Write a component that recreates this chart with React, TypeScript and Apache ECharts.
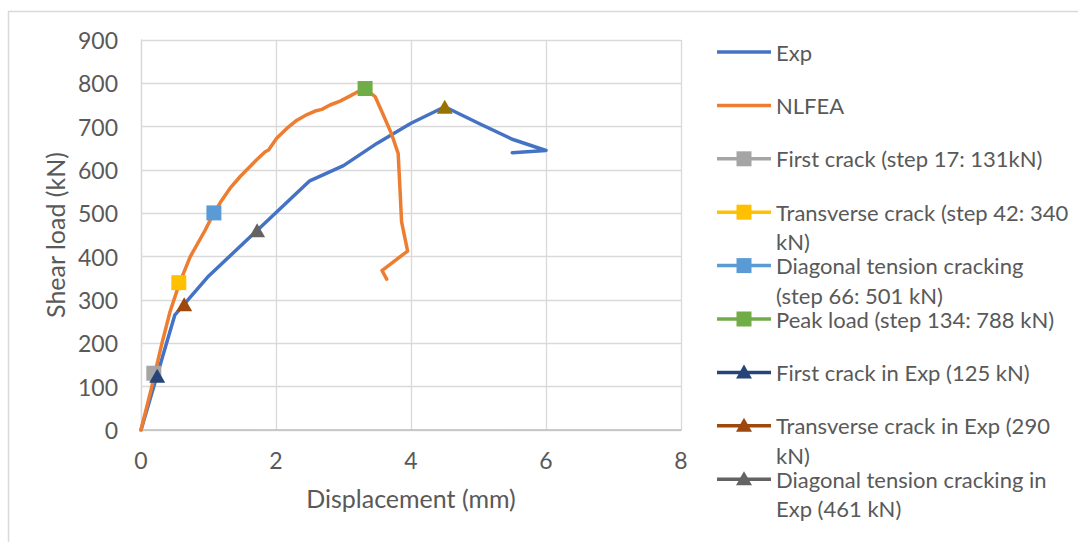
import React, { useEffect, useRef } from "react";
import * as echarts from "echarts";

// Experimental load–displacement curve
const expDisp = [0, 0.5, 1.0, 2.5, 3.0, 3.5, 4.0, 4.5, 5.0, 5.5, 6.0, 5.5];
const expLoad = [0, 265, 355, 575, 610, 662, 708, 746, 708, 671, 645, 640];

// NLFEA load–displacement curve
const feaDisp = [
  0, 0.16, 0.31, 0.43, 0.57, 0.73, 0.95, 1.08, 1.2, 1.32, 1.47, 1.59, 1.71, 1.84, 1.89,
  2.01, 2.16, 2.31, 2.46, 2.58, 2.68, 2.8, 2.95, 3.1, 3.24, 3.32, 3.47, 3.59, 3.71, 3.81,
  3.84, 3.86, 3.95, 3.57, 3.64,
];
const feaLoad = [
  0, 100, 200, 273, 339, 400, 461, 501, 531, 558, 585, 604, 623, 642, 646,
  673, 696, 715, 728, 736, 740, 750, 759, 771, 783, 788, 769, 727, 684, 638,
  546, 481, 413, 368, 348,
];

// Crack / peak events
const eventNames = [
  "First crack (step 17: 131kN)",
  "Transverse crack (step 42: 340 kN)",
  "Diagonal tension cracking (step 66: 501 kN)",
  "Peak load (step 134: 788 kN)",
  "First crack in Exp (125 kN)",
  "Transverse crack in Exp (290 kN)",
  "Diagonal tension cracking in Exp (461 kN)",
  "Peak load in Exp (746 kN)",
];
const eventDisp = [0.19, 0.56, 1.08, 3.32, 0.24, 0.64, 1.72, 4.5];
const eventLoad = [131, 340, 501, 788, 125, 290, 461, 746];

// Legend labels as wrapped in the legend column
const legendLabels = [
  ["Exp"],
  ["NLFEA"],
  ["First crack (step 17: 131kN)"],
  ["Transverse crack (step 42: 340", "kN)"],
  ["Diagonal tension cracking", "(step 66: 501 kN)"],
  ["Peak load (step 134: 788 kN)"],
  ["First crack in Exp (125 kN)"],
  ["Transverse crack in Exp (290", "kN)"],
  ["Diagonal tension cracking in", "Exp (461 kN)"],
];

const EXP_COLOR = "#4472C4";
const FEA_COLOR = "#ED7D31";
const eventColors = ["#A5A5A5", "#FFC000", "#5B9BD5", "#70AD47", "#264478", "#9E480E", "#636363", "#997300"];
const eventSymbols = ["rect", "rect", "rect", "rect", "triangle", "triangle", "triangle", "triangle"];

const FONT = "Lato, 'Noto Sans', sans-serif";
const TEXT_COLOR = "#595959";
const FONT_SIZE = 23;
const LEGEND_FONT_SIZE = 22;
const TITLE_FONT_SIZE = 25;

export default function App() {
  const ref = useRef<HTMLDivElement>(null);

  useEffect(() => {
    if (!ref.current) return;
    const chart = echarts.init(ref.current, undefined, { renderer: "svg" });

    const legendColors = [EXP_COLOR, FEA_COLOR, ...eventColors.slice(0, 7)];
    const legendSymbols = ["none", "none", ...eventSymbols.slice(0, 7)];

    const legendChildren: any[] = [];
    const wrapStep = 29.5;
    legendLabels.forEach((lines, i) => {
      const y = 52 + 53.4 * i;
      const color = legendColors[i];
      legendChildren.push({
        type: "line",
        shape: { x1: 717, y1: y, x2: 771, y2: y },
        style: { stroke: color, lineWidth: 3.5 },
      });
      if (legendSymbols[i] === "rect") {
        legendChildren.push({
          type: "rect",
          shape: { x: 736.5, y: y - 7.5, width: 15, height: 15 },
          style: { fill: color },
        });
      } else if (legendSymbols[i] === "triangle") {
        legendChildren.push({
          type: "polygon",
          shape: { points: [[744, y - 8], [752, y + 6], [736, y + 6]] },
          style: { fill: color },
        });
      }
      lines.forEach((line, k) => {
        legendChildren.push({
          type: "text",
          x: 776,
          y: y + k * wrapStep,
          style: {
            text: line,
            fontFamily: FONT,
            fontSize: LEGEND_FONT_SIZE,
            fill: TEXT_COLOR,
            lineHeight: 23,
            verticalAlign: "middle",
            align: "left",
          },
        });
      });
    });

    const option: any = {
      animation: false,
      backgroundColor: "#ffffff",
      grid: { left: 141, top: 40, right: 397, bottom: 112, containLabel: false },
      xAxis: {
        type: "value",
        min: 0,
        max: 8,
        interval: 2,
        name: "Displacement (mm)",
        nameLocation: "middle",
        nameGap: 55,
        nameTextStyle: { fontFamily: FONT, fontSize: TITLE_FONT_SIZE, color: TEXT_COLOR },
        axisLine: { show: true, lineStyle: { color: "#BFBFBF", width: 1.5 } },
        axisTick: { show: false },
        axisLabel: { fontFamily: FONT, fontSize: FONT_SIZE, color: TEXT_COLOR, margin: 18 },
        splitLine: { show: true, lineStyle: { color: "#D9D9D9", width: 1.3 } },
      },
      yAxis: {
        type: "value",
        min: 0,
        max: 900,
        interval: 100,
        name: "Shear load (kN)",
        nameLocation: "middle",
        nameGap: 74,
        nameTextStyle: { fontFamily: FONT, fontSize: TITLE_FONT_SIZE, color: TEXT_COLOR },
        axisLine: { show: true, lineStyle: { color: "#D9D9D9", width: 1.3 } },
        axisTick: { show: false },
        axisLabel: { fontFamily: FONT, fontSize: FONT_SIZE, color: TEXT_COLOR, margin: 23 },
        splitLine: { show: true, lineStyle: { color: "#D9D9D9", width: 1.3 } },
      },
      graphic: [
        {
          type: "rect",
          shape: { x: 8.5, y: 11.5, width: 1200, height: 700 },
          style: { fill: "none", stroke: "#D9D9D9", lineWidth: 1.5 },
          silent: true,
          z: -10,
        },
        { type: "group", children: legendChildren },
      ],
      series: [
        {
          name: "Exp",
          type: "line",
          data: expDisp.map((d, i) => [d, expLoad[i]]),
          showSymbol: false,
          lineStyle: { color: EXP_COLOR, width: 3.5, cap: "round", join: "round" },
          itemStyle: { color: EXP_COLOR },
          z: 2,
        },
        {
          name: "NLFEA",
          type: "line",
          data: feaDisp.map((d, i) => [d, feaLoad[i]]),
          showSymbol: false,
          lineStyle: { color: FEA_COLOR, width: 3.5, cap: "round", join: "round" },
          itemStyle: { color: FEA_COLOR },
          z: 3,
        },
        ...eventNames.map((name, i) => ({
          name,
          type: "scatter",
          data: [[eventDisp[i], eventLoad[i]]],
          symbol: eventSymbols[i],
          symbolSize: eventSymbols[i] === "rect" ? 15 : [16, 14],
          itemStyle: { color: eventColors[i], opacity: 1 },
          z: 5,
        })),
      ],
    };

    chart.setOption(option);
    return () => chart.dispose();
  }, []);

  return (
    <div
      ref={ref}
      style={{ position: "fixed", left: 0, top: 0, width: 1078, height: 542, background: "#fff" }}
    />
  );
}
